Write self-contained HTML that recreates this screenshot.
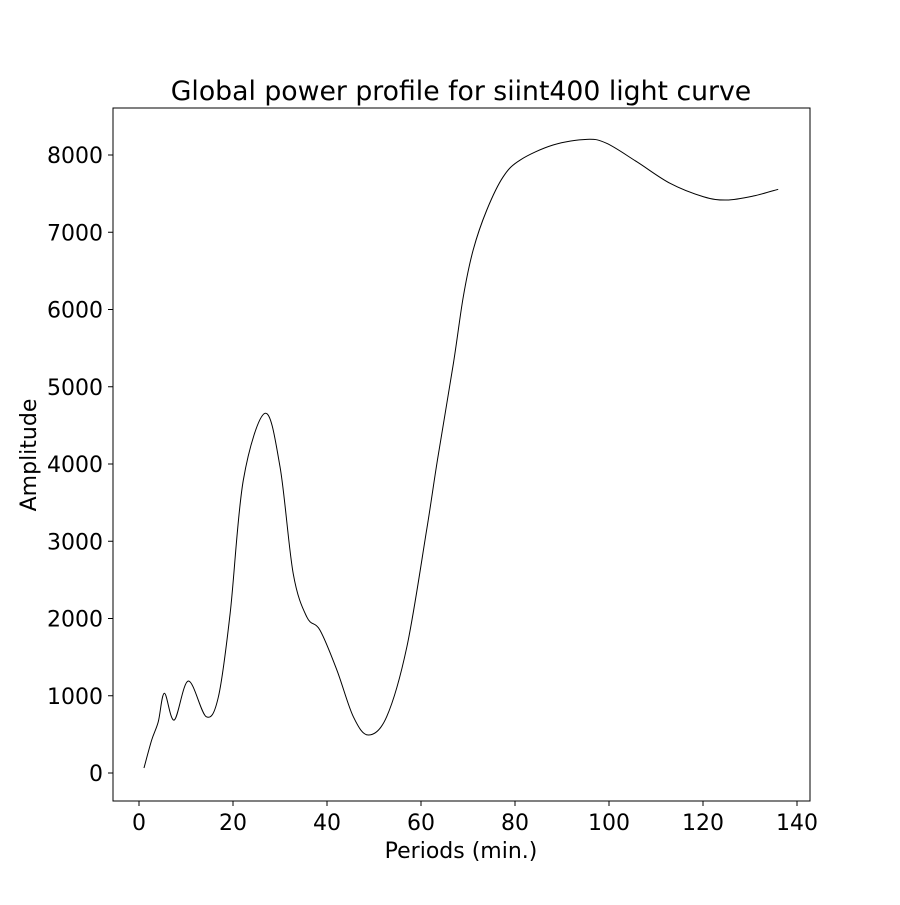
<!DOCTYPE html>
<html><head><meta charset="utf-8"><style>
body{margin:0;background:#fff}
svg text{font-family:"DejaVu Sans","Liberation Sans",sans-serif;fill:#000}
</style></head><body>
<svg id="chart" width="900" height="900">
<text x="461" y="100" font-size="26.7" text-anchor="middle">Global power profile for siint400 light curve</text>
<rect x="113" y="108" width="697" height="693" fill="none" stroke="#000" stroke-width="1"/>
<g id="xt"></g>
<g id="yt"></g>
<path id="line" fill="none" stroke="#000" stroke-width="1"/>
<text x="461" y="858" font-size="22" text-anchor="middle">Periods (min.)</text>
<text x="36" y="455" font-size="22" text-anchor="middle" transform="rotate(-90 36 455)">Amplitude</text>
</svg>
<script>
const periods=[1.06,2.7,4.1,5.4,7.5,10.5,14.3,16.9,19.4,22.2,26.8,30,32.8,35.7,38.5,42.1,45.6,48.8,52.7,57,61.2,63.5,66.9,69,71.1,74,77.5,81.1,88.1,95.3,99.5,105.9,113,120.1,125,130.7,136];
const amplitudes=[65,427,664,1032,686,1191,729,988,2070,3793,4656,3965,2585,2020,1850,1333,729,492,729,1635,3146,4052,5304,6166,6770,7288,7719,7935,8129,8203,8151,7913,7633,7460,7417,7469,7556];
const xTicks=[0,20,40,60,80,100,120,140];
const yTicks=[0,1000,2000,3000,4000,5000,6000,7000,8000];
const sx=v=>139+v*4.7, sy=v=>773-v*0.07725;
const NS="http://www.w3.org/2000/svg";
const xt=document.getElementById('xt'), yt=document.getElementById('yt');
xTicks.forEach(t=>{
  const l=document.createElementNS(NS,'line');
  l.setAttribute('x1',sx(t));l.setAttribute('x2',sx(t));l.setAttribute('y1',801);l.setAttribute('y2',806);l.setAttribute('stroke','#000');
  
  
  xt.appendChild(l);
  const tx=document.createElementNS(NS,'text');
  tx.setAttribute('x',sx(t));tx.setAttribute('y',830);tx.setAttribute('font-size','22');tx.setAttribute('text-anchor','middle');tx.textContent=t;
  
  
  xt.appendChild(tx);
});
yTicks.forEach(t=>{
  const l=document.createElementNS(NS,'line');
  l.setAttribute('x1',108);l.setAttribute('x2',113);l.setAttribute('y1',sy(t));l.setAttribute('y2',sy(t));l.setAttribute('stroke','#000');
  
  
  yt.appendChild(l);
  const tx=document.createElementNS(NS,'text');
  tx.setAttribute('x',103);tx.setAttribute('y',sy(t)+8);tx.setAttribute('font-size','22');tx.setAttribute('text-anchor','end');tx.textContent=t;
  
  
  yt.appendChild(tx);
});
const pts=periods.map((p,i)=>[sx(p),sy(amplitudes[i])]);
let d=`M${pts[0][0]},${pts[0][1]}`;
for(let i=0;i<pts.length-1;i++){
  const p0=pts[Math.max(0,i-1)],p1=pts[i],p2=pts[i+1],p3=pts[Math.min(pts.length-1,i+2)];
  const c1=[p1[0]+(p2[0]-p0[0])/6,p1[1]+(p2[1]-p0[1])/6];
  const c2=[p2[0]-(p3[0]-p1[0])/6,p2[1]-(p3[1]-p1[1])/6];
  d+=` C${c1[0]},${c1[1]} ${c2[0]},${c2[1]} ${p2[0]},${p2[1]}`;
}
document.getElementById('line').setAttribute('d',d);
</script>
</body></html>
